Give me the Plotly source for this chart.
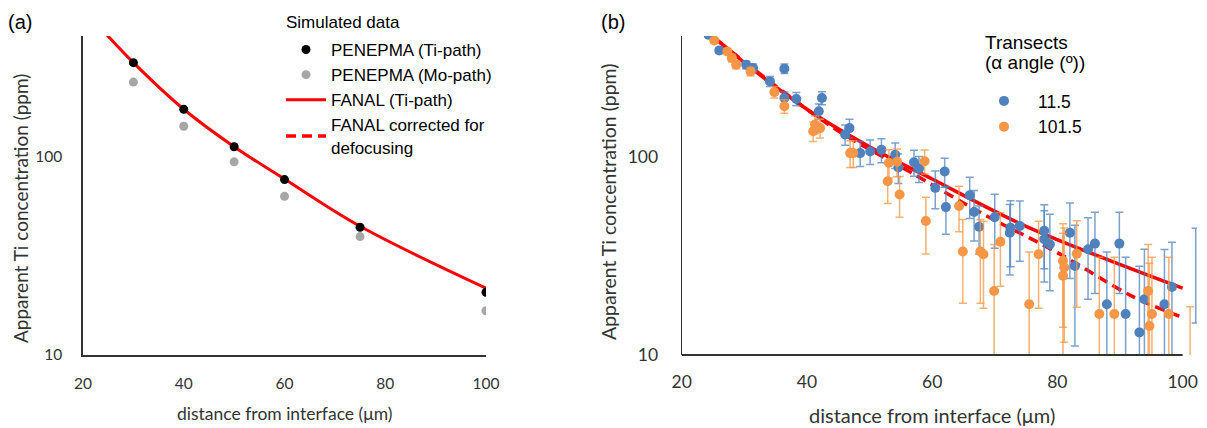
import plotly.graph_objects as go

W, H = 1207, 428

# ---------------- Panel (a) data ----------------
sim_x = [30, 40, 50, 60, 75, 100]
ti_path = [297, 173, 112, 76.5, 44, 20.7]
mo_path = [237, 142, 94, 63, 39.5, 16.7]
fanal_x = [24.0, 30, 40, 50, 60, 75, 100]
fanal_y = [430, 297, 173, 112, 77, 44.5, 21.7]

# ---------------- Panel (b) data ----------------
blue_x = [24.3, 26.0, 30.3, 31.4, 34.1, 36.4, 36.4, 38.3, 41.9, 42.4, 46.8, 46.1,
          48.5, 50.1, 51.9, 54.1, 54.6, 57.1, 57.9, 60.5, 62.0, 62.2, 66.0, 66.7,
          67.5, 70.0, 72.5, 72.4, 74.0, 77.9, 77.9, 78.8, 82.0, 82.8, 84.9, 86.0,
          87.9, 89.9, 90.9, 93.1, 93.9, 97.1, 98.3]
blue_y = [410, 342, 290, 279, 239, 277, 197, 195, 169, 197, 139, 129,
          104, 106, 108, 102, 88, 93.6, 87, 69.5, 84, 55.6, 63.7, 52.5,
          44.3, 49.5, 43.8, 41.3, 44.7, 42.2, 38.3, 36.1, 41.3, 28.1, 34.1, 36.4,
          18.0, 36.4, 16.1, 13.0, 19.1, 18.0, 22.0]
blue_err = [12, 12, 13, 13, 14, 15, 14, 15, 15, 15, 15, 15,
            15, 15, 15, 15, 15, 14, 13, 15, 14, 15, 15, 15,
            12, 15, 16, 16, 15, 15, 15, 15, 17, 17, 15, 16,
            15, 16, 15, 15, 15, 16, 15]

orange_x = [25.2, 27.3, 28.0, 28.7, 31.0, 34.8, 36.4, 41.3, 41.0, 42.1, 46.9, 47.4,
            53.1, 54.4, 52.9, 54.8, 58.8, 59.0, 64.3, 64.9, 67.7, 68.2, 70.9, 69.9,
            75.5, 77.0, 80.9, 81.1, 80.9, 83.1, 86.7, 89.1, 94.5, 95.1, 94.7, 97.8]
orange_y = [384, 338, 313, 290, 268, 211, 179, 145, 134, 139, 104, 104,
            93, 94, 75, 64.4, 94.7, 47.3, 56.3, 33.2, 33.2, 32.2, 37.2, 21.0,
            18.0, 32.2, 29.8, 27.6, 25.1, 32.4, 16.1, 16.1, 21.0, 16.1, 14.0, 16.1]
orange_err = [12, 12, 13, 13, 13, 14, 14, 15, 15, 15, 16, 16,
              15, 15, 17, 15, 13, 15, 14.5, 15, 15, 15, 15, 15,
              15, 15, 16, 16, 16, 15, 15, 15, 15, 15, 15, 15]

# points just past the end of the x axis (only their error bars show)
blue_out_x = [102.1]
blue_out_y = [29]
blue_out_err = [14.5]
orange_out_x = [101.2]
orange_out_y = [2.5]
orange_out_err = [15]

dash_x = [25.9, 44, 56.5, 68.3, 80, 92.3, 99.5]
dash_y = [380, 141, 83.5, 51, 32.8, 19.5, 15.7]

BLUE = "#4F81BD"
ORANGE = "#F79646"
RED = "#FF0000"
TICKFONT = "Lato"
LEGFONT = "Liberation Sans"
AXC = "#333333"

fig = go.Figure()

# ---- panel (a)
fig.add_trace(go.Scatter(x=fanal_x, y=fanal_y, mode="lines", name="FANAL (Ti-path)",
                         line=dict(color=RED, width=3, shape="spline"),
                         xaxis="x", yaxis="y", legend="legend", legendrank=3))
fig.add_trace(go.Scatter(x=sim_x, y=ti_path, mode="markers", name="PENEPMA (Ti-path)",
                         marker=dict(color="black", size=9),
                         xaxis="x", yaxis="y", legend="legend", legendrank=1))
fig.add_trace(go.Scatter(x=sim_x, y=mo_path, mode="markers", name="PENEPMA (Mo-path)",
                         marker=dict(color="#A6A6A6", size=9),
                         xaxis="x", yaxis="y", legend="legend", legendrank=2))

# ---- panel (b)
fig.add_trace(go.Scatter(x=fanal_x, y=fanal_y, mode="lines", showlegend=False,
                         line=dict(color=RED, width=3.5, shape="spline"),
                         xaxis="x2", yaxis="y2"))
fig.add_trace(go.Scatter(x=dash_x, y=dash_y, mode="lines", name="FANAL corrected for<br>defocusing",
                         line=dict(color=RED, width=3.5, shape="spline", dash="10px,6px"),
                         xaxis="x2", yaxis="y2", legend="legend", legendrank=4))

eb_blue = "rgba(79,129,189,0.75)"
eb_orange = "rgba(247,150,70,0.75)"
fig.add_trace(go.Scatter(x=blue_out_x, y=blue_out_y, mode="markers", showlegend=False,
                         marker=dict(color=BLUE, size=10, opacity=0),
                         error_y=dict(type="data", array=blue_out_err, color=eb_blue, thickness=1.5, width=4),
                         xaxis="x2", yaxis="y2"))
fig.add_trace(go.Scatter(x=orange_out_x, y=orange_out_y, mode="markers", showlegend=False,
                         marker=dict(color=ORANGE, size=10, opacity=0),
                         error_y=dict(type="data", array=orange_out_err, color=eb_orange, thickness=1.5, width=4),
                         xaxis="x2", yaxis="y2"))
fig.add_trace(go.Scatter(x=blue_x, y=blue_y, mode="markers", name="11.5",
                         marker=dict(color=BLUE, size=10),
                         error_y=dict(type="data", array=blue_err, color=eb_blue, thickness=1.5, width=4),
                         xaxis="x2", yaxis="y2", legend="legend2"))
fig.add_trace(go.Scatter(x=orange_x, y=orange_y, mode="markers", name="101.5",
                         marker=dict(color=ORANGE, size=10),
                         error_y=dict(type="data", array=orange_err, color=eb_orange, thickness=1.5, width=4),
                         xaxis="x2", yaxis="y2", legend="legend2"))


def px_x(p):
    return p / W


def px_y(p):
    return 1 - p / H


y_dom = [px_y(355), px_y(36)]
common_y = dict(type="log", range=[1, 2.607], tickvals=[10, 100], ticktext=["10", "100"],
                showgrid=False, zeroline=False, showline=True, ticks="", automargin=False)
common_x = dict(tickvals=[20, 40, 60, 80, 100], showgrid=False, zeroline=False, ticks="",
                automargin=False)

fig.update_layout(
    width=W, height=H, margin=dict(l=0, r=0, t=0, b=0),
    paper_bgcolor="white", plot_bgcolor="white",
    xaxis=dict(domain=[px_x(83), px_x(486)], range=[20, 100], anchor="y",
               showline=True, linecolor=AXC, linewidth=1.5,
               tickfont=dict(family=TICKFONT, size=15.5, color=AXC), ticklabelstandoff=14,
               **common_x),
    yaxis=dict(domain=y_dom, anchor="x", linecolor=AXC, linewidth=1.5,
               tickfont=dict(family=TICKFONT, size=15.5, color=AXC), ticklabelstandoff=16,
               **common_y),
    xaxis2=dict(domain=[px_x(681.7), px_x(1197)], range=[20, 102.3], anchor="y2",
                showline=False,
                tickfont=dict(family=TICKFONT, size=17.5, color=AXC), ticklabelstandoff=14,
                **common_x),
    yaxis2=dict(domain=y_dom, anchor="x2", linecolor=AXC, linewidth=1.2,
                tickfont=dict(family=TICKFONT, size=17.5, color=AXC), ticklabelstandoff=19,
                **common_y),
    legend=dict(x=px_x(281), y=px_y(32), xanchor="left", yanchor="top",
                bgcolor="rgba(0,0,0,0)", font=dict(family=LEGFONT, size=17, color="black"),
                tracegroupgap=0, itemwidth=40),
    legend2=dict(x=px_x(970), y=px_y(83), xanchor="left", yanchor="top",
                 bgcolor="rgba(0,0,0,0)", font=dict(family=LEGFONT, size=17.5, color="black"),
                 tracegroupgap=0, itemwidth=58),
    showlegend=True,
)

# x axis line of panel (b) stops at 100
fig.add_shape(type="line", xref="x2", yref="paper", x0=20, x1=100, y0=px_y(355), y1=px_y(355),
              line=dict(color=AXC, width=2))


def label(text, x, y, size, family=TICKFONT, angle=0, anchor="center", color=AXC):
    fig.add_annotation(text=text, xref="paper", yref="paper", x=px_x(x), y=px_y(y),
                       xanchor=anchor, yanchor="middle", showarrow=False, textangle=angle,
                       font=dict(family=family, size=size, color=color))


label("distance from interface (μm)", 284, 413, 17.5)
label("distance from interface (μm)", 932, 415, 20)
label("Apparent Ti concentration (ppm)", 20, 209, 19, angle=-90)
label("Apparent Ti concentration (ppm)", 608, 202, 19.5, angle=-90)
label("(a)", 20, 22, 20, family=LEGFONT, color="black")
label("(b)", 613, 22, 20, family=LEGFONT, color="black")
# legend titles
label("Simulated data", 284, 23, 17, family=LEGFONT, anchor="left", color="black")
label("Transects", 983, 43, 19, family=LEGFONT, anchor="left", color="black")
label("(α angle (º))", 983, 63, 19, family=LEGFONT, anchor="left", color="black")

fig.write_html("out.html", config={"displayModeBar": False},
               post_script="document.body.style.margin='0px';")
